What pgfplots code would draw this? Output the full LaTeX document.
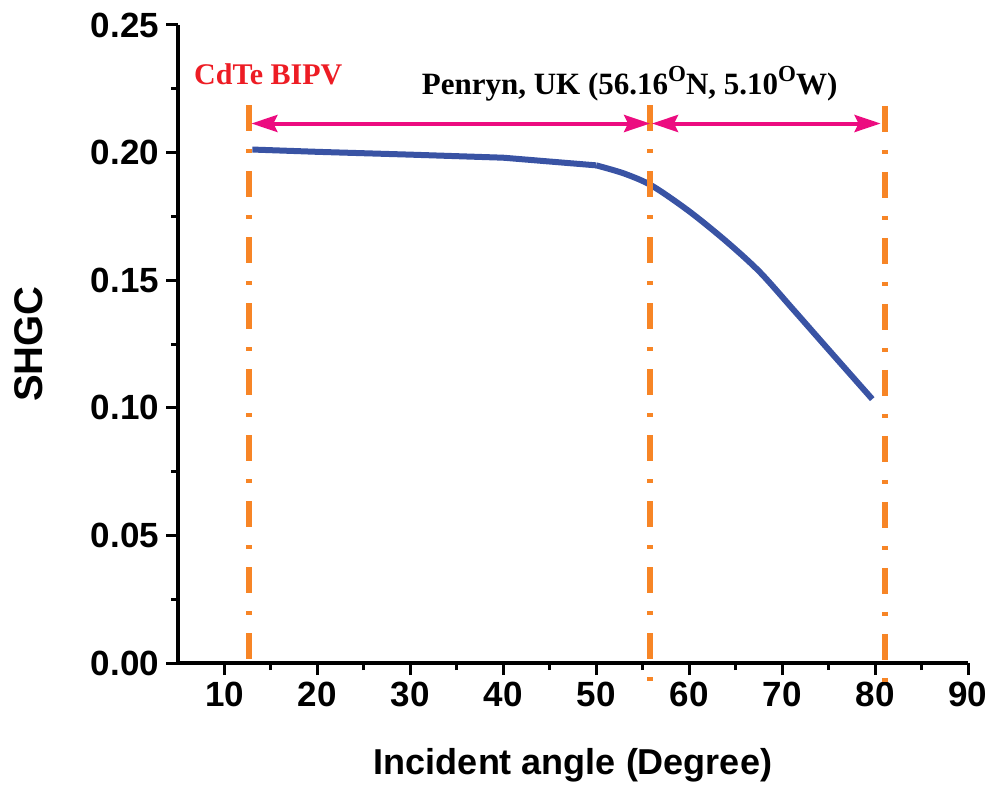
\documentclass[border=0pt]{standalone}
\usepackage{pgfplots}
\pgfplotsset{compat=1.18}
\usepackage{fontspec}
\setmainfont{Liberation Sans}
\newfontfamily\timesfont{Liberation Serif}
\usetikzlibrary{arrows.meta}

\definecolor{curveblue}{RGB}{57,83,164}
\definecolor{vorange}{RGB}{247,133,38}
\definecolor{arrowpink}{RGB}{236,12,128}
\definecolor{labelred}{RGB}{237,28,36}

\begin{document}
\begin{tikzpicture}
\begin{axis}[
    scale only axis,
    width=395pt,
    height=319pt,
    xmin=5, xmax=90,
    ymin=0, ymax=0.25,
    axis lines*=left,
    clip=false,
    xtick={10,20,30,40,50,60,70,80,90},
    ytick={0,0.05,0.1,0.15,0.2,0.25},
    minor x tick num=1,
    minor y tick num=1,
    tick align=outside,
    major tick length=6pt,
    minor tick length=3.5pt,
    axis line style={line width=1.7pt, black},
    every tick/.style={line width=1.5pt, black},
    /pgf/number format/assume math mode=true,
    yticklabel style={/pgf/number format/.cd, fixed, fixed zerofill, precision=2},
    ticklabel style={font=\fontsize{17.5}{20}\selectfont\bfseries},
    xlabel={Incident angle (Degree)},
    ylabel={SHGC},
    xlabel style={font=\fontsize{18}{21}\selectfont\bfseries,
        at={(axis description cs:0.5,0)}, anchor=base, yshift=-55.5pt},
    ylabel style={font=\fontsize{20}{23}\selectfont\bfseries,
        at={(axis description cs:-0.172,0.5)}, anchor=base},
]
\coordinate (o) at (rel axis cs:0,0);
\coordinate (t) at (rel axis cs:1,1);

% SHGC curve: nearly flat part, then the fall-off
\addplot[color=curveblue, line width=3pt, line join=round] coordinates {
    (13,0.2012) (20,0.2003) (30,0.1992) (40,0.1980) (46,0.1962) (50,0.1950)
};
\addplot[color=curveblue, line width=3pt, line join=round, smooth, tension=0.5] coordinates {
    (50,0.1950) (53,0.1918) (56,0.1870) (60,0.1770) (64,0.1652) (67.6,0.1532)
    (71.2,0.1385) (74.8,0.1236) (79.7,0.1034)
};

% orange dash-dot markers
\addplot[color=vorange, line width=3pt, dash pattern=on 13pt off 9pt on 2pt off 9pt]
    coordinates {(12.6,0.2185) (12.6,-0.003)};
\addplot[color=vorange, line width=3pt, dash pattern=on 13pt off 9pt on 2pt off 9pt]
    coordinates {(55.8,0.2185) (55.8,-0.011)};
\addplot[color=vorange, line width=3pt, dash pattern=on 13pt off 9pt on 2pt off 9pt]
    coordinates {(81.1,0.2183) (81.1,-0.011)};

% pink range arrows
\addplot[color=arrowpink, line width=2pt, {Stealth[length=13pt,width=8.5pt,inset=2pt]}-{Stealth[length=13pt,width=8.5pt,inset=2pt]}]
    coordinates {(12.9,0.2114) (55.8,0.2114)};
\addplot[color=arrowpink, line width=2pt, {Stealth[length=13pt,width=8.5pt,inset=2pt]}-{Stealth[length=13pt,width=8.5pt,inset=2pt]}]
    coordinates {(56.0,0.2114) (80.6,0.2114)};

\node[anchor=base west, inner sep=0pt, text=labelred, font=\timesfont\fontsize{15}{18}\selectfont\bfseries]
    at (axis cs:6.7,0.2266) {CdTe BIPV};
\node[anchor=base west, inner sep=0pt, font=\timesfont\fontsize{15.5}{18}\selectfont\bfseries]
    at (axis cs:31.2,0.2227) {Penryn, UK (56.16\raisebox{0.42em}{\fontsize{11.5}{12}\selectfont O}N, 5.10\raisebox{0.42em}{\fontsize{11.5}{12}\selectfont O}W)};
\end{axis}
\pgfresetboundingbox
\path[use as bounding box] ([shift={(-89pt,-61.5pt)}]o) rectangle ([shift={(11pt,12.5pt)}]t);
\end{tikzpicture}
\end{document}
